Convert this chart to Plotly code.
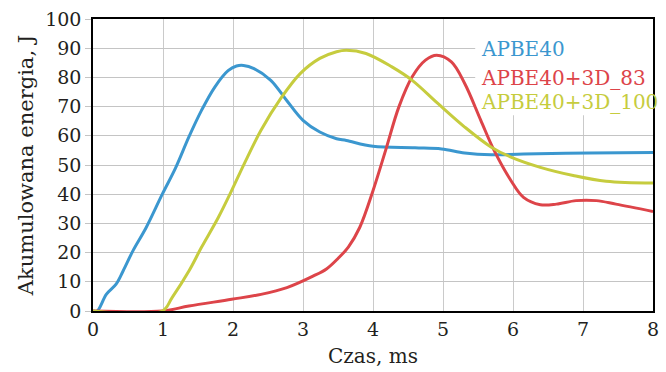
import plotly.graph_objects as go

# ---- data ----
series_names = ["APBE40", "APBE40+3D_83", "APBE40+3D_100"]
series_colors = ["#3b97cf", "#dd4449", "#c6cc3e"]

blue_x = [0, 0.06, 0.19, 0.33, 0.43, 0.57, 0.76, 0.99, 1.18, 1.37, 1.55, 1.74, 1.93, 2.05, 2.15,
          2.3, 2.54, 2.77, 3.0, 3.24, 3.48, 3.62, 4.0, 4.6, 4.98, 5.31, 5.69, 6.15, 7.09, 8.0]
blue_y = [0, 0, 5.7, 9.2, 13.7, 20.6, 28.6, 40, 49, 59.6, 68.7, 76.7, 82.3, 83.9, 84.1,
          83, 79, 72, 65.3, 61.3, 59, 58.4, 56.4, 55.9, 55.5, 54.1, 53.5, 53.8, 54.1, 54.3]

red_x = [0, 0.99, 1.37, 1.98, 2.4, 2.77, 3.15, 3.34, 3.5, 3.65, 3.81, 4.0, 4.18, 4.37, 4.56,
         4.75, 4.91, 5.12, 5.31, 5.54, 5.73, 5.97, 6.15, 6.39, 6.62, 6.9, 7.19, 7.47, 8.0]
red_y = [0, 0, 1.7, 4, 5.7, 8, 12.0, 14.5, 18, 22, 28.6, 41.2, 55, 69.9, 80.2,
         85.9, 87.6, 85.3, 77.9, 65.3, 55, 44.7, 38.9, 36.4, 36.6, 37.8, 37.8, 36.6, 34.1]

yel_x = [0, 0.99, 1.13, 1.37, 1.55, 1.79, 1.98, 2.16, 2.4, 2.68, 2.96, 3.24, 3.48, 3.62,
         3.9, 4.27, 4.56, 4.93, 5.31, 5.69, 5.97, 6.39, 6.86, 7.33, 8.0]
yel_y = [0, 0, 4.6, 13.7, 21.8, 32, 41.2, 50.4, 61.9, 72.7, 81.3, 86.5, 88.8, 89.3,
         88.2, 83.6, 79, 71, 63, 56.1, 52.7, 49.2, 46.4, 44.4, 43.8]

x_ticks = [0, 1, 2, 3, 4, 5, 6, 7, 8]
y_ticks = [0, 10, 20, 30, 40, 50, 60, 70, 80, 90, 100]

x_title = "Czas, ms"
y_title = "Akumulowana energia, J"

# legend label positions (data coords)
legend_x = 5.52
legend_y = [89.6, 79.8, 71.7]

FONT = "DejaVu Serif"
TXT = "#231f20"

fig = go.Figure()
for xs, ys, name, col in [(blue_x, blue_y, series_names[0], series_colors[0]),
                          (red_x, red_y, series_names[1], series_colors[1]),
                          (yel_x, yel_y, series_names[2], series_colors[2])]:
    fig.add_trace(go.Scatter(x=xs, y=ys, name=name, mode="lines",
                             line=dict(color=col, width=3, shape="spline", smoothing=1.0),
                             showlegend=False))

# white box behind legend text (hides grid)
fig.add_shape(type="rect", xref="x", yref="y", x0=5.46, x1=8, y0=67, y1=100,
              fillcolor="white", line=dict(width=0), layer="between")

for name, col, ly in zip(series_names, series_colors, legend_y):
    fig.add_annotation(x=legend_x, y=ly, xref="x", yref="y", text=name, showarrow=False,
                       xanchor="left", yanchor="middle",
                       font=dict(family=FONT, size=20, color=col))

fig.update_layout(
    width=666, height=372,
    margin=dict(l=93, r=7, t=19, b=61),
    paper_bgcolor="white", plot_bgcolor="white",
    font=dict(family=FONT, size=19, color=TXT),
)
fig.update_xaxes(range=[0, 8], tickvals=x_ticks, showgrid=True, gridcolor="#cacaca", gridwidth=1,
                 showline=True, linecolor="black", linewidth=1.5, mirror=True,
                 ticks="", zeroline=False,
                 title=dict(text=x_title, font=dict(family=FONT, size=20, color=TXT), standoff=10),
                 tickfont=dict(family=FONT, size=19, color=TXT))
fig.update_yaxes(range=[0, 100], tickvals=y_ticks, showgrid=True, gridcolor="#c4c4c4", gridwidth=1,
                 showline=True, linecolor="black", linewidth=1.5, mirror=True,
                 ticks="outside", ticklen=6, tickcolor="#c4c4c4", zeroline=False,
                 title=dict(text=y_title, font=dict(family=FONT, size=21, color=TXT), standoff=6),
                 tickfont=dict(family=FONT, size=19, color=TXT))

fig.write_html("out.html")
